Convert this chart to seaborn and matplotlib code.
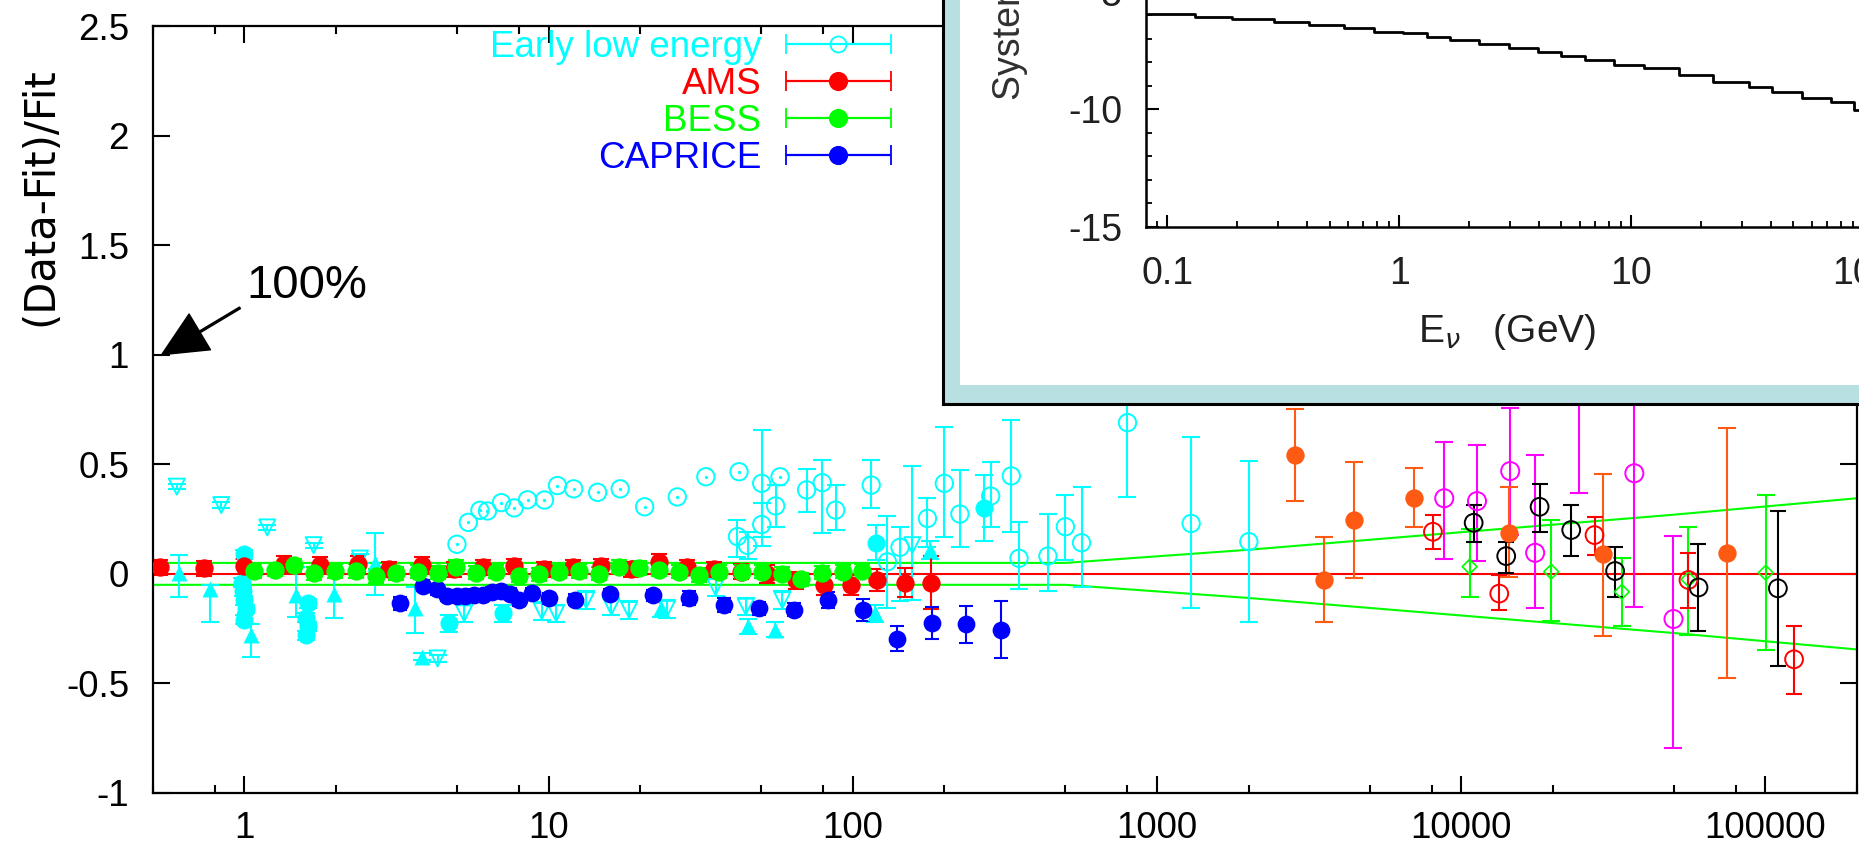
import numpy as np
import matplotlib
matplotlib.use("Agg")
import matplotlib.pyplot as plt
import seaborn as sns
from matplotlib.container import ErrorbarContainer
from matplotlib.legend_handler import HandlerErrorbar
from matplotlib.ticker import FixedLocator, FixedFormatter, LogLocator, NullFormatter, MultipleLocator

CYAN, RED, GREEN, BLUE = "#00ffff", "#ff0000", "#00ff00", "#0000ff"
MAGENTA, ORANGE, BLACK = "#ff00ff", "#ff5a14", "#000000"

# ---------------- data ----------------
ams_E = [0.53, 0.74, 1.0, 1.35, 1.78, 2.36, 3.0, 3.85, 4.9, 6.1, 7.7, 9.7, 12.0, 14.9,
         18.6, 23.1, 28.6, 35.0, 42.8, 52.4, 64.9, 80.4, 98.4, 120, 148, 181]
ams_v = [0.03, 0.025, 0.035, 0.045, 0.04, 0.045, 0.02, 0.04, 0.02, 0.03, 0.035, 0.02, 0.03, 0.035,
         0.02, 0.055, 0.03, 0.02, 0.01, 0.0, -0.03, -0.05, -0.05, -0.03, -0.04, -0.04]
ams_err = [0.035, 0.035, 0.035, 0.035, 0.035, 0.035, 0.035, 0.035, 0.035, 0.035, 0.035, 0.035, 0.035,
           0.035, 0.035, 0.035, 0.035, 0.035, 0.035, 0.04, 0.04, 0.045, 0.045, 0.05, 0.065, 0.12]

bess_E = [1.08, 1.26, 1.46, 1.70, 1.98, 2.33, 2.71, 3.15, 3.72, 4.32, 4.95, 5.77, 6.71, 8.0, 9.31,
          10.8, 12.6, 14.7, 17.1, 19.9, 23.1, 26.9, 31.3, 36.3, 43.4, 50.5, 58.7, 67.8, 79.4, 92.9, 107]
bess_v = [0.013, 0.018, 0.04, 0.002, 0.013, 0.013, -0.01, 0.002, 0.01, 0.005, 0.033, 0.005, 0.01,
          -0.008, -0.002, 0.01, 0.013, 0.0, 0.033, 0.027, 0.018, 0.01, -0.005, 0.01, 0.01, 0.01, 0.0,
          -0.025, 0.005, 0.01, 0.013]
bess_err = [0.03] * 31

cap_E = [3.24, 3.86, 4.3, 4.65, 5.0, 5.32, 5.7, 6.09, 6.5, 6.97, 7.45, 7.98, 8.8, 10.0, 12.2, 15.9,
         22.0, 29.0, 37.7, 49.2, 64.1, 82.9, 108, 140, 182, 236, 306]
cap_v = [-0.135, -0.054, -0.07, -0.1, -0.1, -0.1, -0.095, -0.097, -0.085, -0.08, -0.09, -0.12, -0.088,
         -0.112, -0.118, -0.092, -0.098, -0.11, -0.142, -0.158, -0.163, -0.12, -0.165, -0.295, -0.223,
         -0.231, -0.254]
cap_err = [0.03, 0.025, 0.025, 0.025, 0.025, 0.025, 0.025, 0.025, 0.025, 0.025, 0.025, 0.025, 0.025,
           0.025, 0.025, 0.025, 0.025, 0.03, 0.03, 0.03, 0.03, 0.035, 0.05, 0.055, 0.072, 0.084, 0.13]

# early low-energy experiments (all cyan)
cf_E = [1.0, 0.98, 0.99, 1.0, 1.01, 1.0, 1.62, 1.6, 1.62, 1.6, 4.71, 7.06, 119, 271]
cf_v = [0.09, -0.04, -0.08, -0.12, -0.16, -0.21, -0.135, -0.2, -0.24, -0.28, -0.226, -0.18, 0.142, 0.299]
cf_err = [0.02, 0.02, 0.02, 0.02, 0.02, 0.02, 0.02, 0.02, 0.02, 0.02, 0.04, 0.04, 0.08, 0.15]

ct_E = [0.61, 0.77, 1.05, 1.48, 1.97, 2.69, 3.63, 3.85, 23.5, 45.3, 55.6, 118.6, 179]
ct_v = [0.002, -0.07, -0.28, -0.097, -0.09, 0.048, -0.158, -0.378, -0.158, -0.24, -0.255, -0.18, 0.11]
ct_lo = [0.107, 0.15, 0.1, 0.1, 0.11, 0.145, 0.114, 0.015, 0.04, 0.035, 0.035, 0.04, 0.04]
ct_hi = [0.084, 0.02, 0.05, 0.13, 0.1, 0.137, 0.1, 0.015, 0.04, 0.035, 0.035, 0.04, 0.04]

cv_E = [0.6, 0.84, 1.19, 1.69, 2.4, 4.32, 5.28, 9.5, 10.6, 13.3, 16.1, 18.4, 24.5, 35.4, 44.5, 58.7, 157]
cv_v = [0.398, 0.314, 0.212, 0.131, 0.07, -0.386, -0.18, -0.17, -0.18, -0.12, -0.15, -0.165, -0.16,
        -0.06, -0.15, -0.12, 0.131]
cv_lo = [0.012, 0.012, 0.012, 0.012, 0.02, 0.015, 0.04, 0.04, 0.04, 0.04, 0.04, 0.04, 0.04, 0.04,
         0.04, 0.04, 0.25]
cv_hi = [0.012, 0.012, 0.012, 0.012, 0.02, 0.015, 0.04, 0.04, 0.04, 0.04, 0.04, 0.04, 0.04, 0.04,
         0.04, 0.04, 0.36]

cd_E = [5.0, 5.45, 5.95, 6.3, 7.0, 7.71, 8.53, 9.7, 10.7, 12.1, 14.5, 17.2, 20.7, 26.5, 32.9, 42.3, 57.7]
cd_v = [0.135, 0.235, 0.29, 0.287, 0.325, 0.301, 0.338, 0.337, 0.403, 0.388, 0.372, 0.388, 0.306,
        0.351, 0.443, 0.466, 0.443]

co_E = [41.8, 45.1, 50.2, 50.2, 55.8, 70.5, 79.4, 87.9, 115, 130, 143, 176, 200, 225, 284, 332, 352,
        438, 500, 565, 800, 1295, 2005]
co_v = [0.17, 0.13, 0.413, 0.225, 0.31, 0.383, 0.416, 0.291, 0.405, 0.055, 0.121, 0.253, 0.413, 0.273,
        0.355, 0.447, 0.071, 0.081, 0.215, 0.142, 0.69, 0.23, 0.147]
co_hi = [0.076, 0.06, 0.244, 0.1, 0.095, 0.097, 0.104, 0.114, 0.115, 0.209, 0.094, 0.092, 0.256, 0.201,
         0.157, 0.255, 0.167, 0.192, 0.145, 0.253, 0.3, 0.393, 0.369]
co_lo = [0.092, 0.06, 0.243, 0.1, 0.095, 0.103, 0.231, 0.091, 0.105, 0.213, 0.244, 0.129, 0.243, 0.149,
         0.14, 0.255, 0.142, 0.16, 0.152, 0.204, 0.338, 0.388, 0.366]

# high-energy data sets
or_E = [2832, 3550, 4454, 6980, 14390, 29240, 74700]
or_v = [0.542, -0.028, 0.246, 0.345, 0.188, 0.089, 0.093]
or_hi = [0.21, 0.195, 0.263, 0.137, 0.207, 0.367, 0.574]
or_lo = [0.209, 0.191, 0.264, 0.133, 0.201, 0.372, 0.566]

ro_E = [8075, 13340, 27430, 55850, 124200]
ro_v = [0.192, -0.09, 0.177, -0.028, -0.39]
ro_hi = [0.077, 0.087, 0.084, 0.124, 0.152]
ro_lo = [0.077, 0.073, 0.09, 0.129, 0.156]

mg_E = [8796, 11270, 14490, 17500, 24300, 37080, 49870]
mg_v = [0.345, 0.332, 0.469, 0.096, 0.95, 0.459, -0.206]
mg_hi = [0.258, 0.256, 0.287, 0.446, 0.3, 0.6, 0.378]
mg_lo = [0.275, 0.272, 0.29, 0.253, 0.583, 0.609, 0.59]

bk_E = [10990, 14060, 18100, 23000, 32060, 60260, 109900]
bk_v = [0.233, 0.081, 0.306, 0.2, 0.013, -0.062, -0.066]
bk_hi = [0.081, 0.066, 0.104, 0.114, 0.111, 0.198, 0.354]
bk_lo = [0.087, 0.077, 0.113, 0.119, 0.117, 0.198, 0.355]

gd_E = [10660, 19770, 33740, 55850, 100200]
gd_v = [0.033, 0.01, -0.082, -0.025, 0.005]
gd_hi = [0.17, 0.236, 0.153, 0.237, 0.355]
gd_lo = [0.138, 0.223, 0.156, 0.253, 0.353]

# uncertainty band
band_E = [0.5, 500, 2000, 10000, 50000, 200000]
band_hi = [0.05, 0.05, 0.11, 0.19, 0.27, 0.345]
band_lo = [-0.05, -0.05, -0.11, -0.19, -0.27, -0.345]

# inset curve
sys_E = [0.0809, 0.132, 0.19, 0.288, 0.408, 0.58, 0.78, 1.04, 1.31, 1.65, 2.2, 2.96, 3.96, 4.98, 6.3,
         8.4, 11.3, 16, 22.6, 32, 40.5, 54.2, 72.4, 91.5, 130]
sys_v = [-5.94, -6.06, -6.17, -6.28, -6.41, -6.55, -6.69, -6.76, -6.9, -7.05, -7.22, -7.4, -7.55, -7.73,
         -7.9, -8.11, -8.26, -8.54, -8.83, -9.04, -9.25, -9.54, -9.68, -10.03, -10.3]

xtick_vals = [1, 10, 100, 1000, 10000, 100000]
xtick_labels = ["1", "10", "100", "1000", "10000", "100000"]
ytick_vals = [-1, -0.5, 0, 0.5, 1, 1.5, 2, 2.5]
ytick_labels = ["-1", "-0.5", "0", "0.5", "1", "1.5", "2", "2.5"]
inset_xticks = [0.1, 1, 10, 100]
inset_xlabels = ["0.1", "1", "10", "100"]
inset_yticks = [-15, -10, -5]
inset_ylabels = ["-15", "-10", "-5"]

legend_labels = ["Early low energy", "AMS", "BESS", "CAPRICE"]
legend_colors = [CYAN, RED, GREEN, BLUE]
legend_open = [True, False, False, False]

# ---------------- style ----------------
sns.set_style("ticks")
plt.rcParams["font.family"] = ["Liberation Sans", "DejaVu Sans"]
plt.rcParams["axes.unicode_minus"] = False
plt.rcParams["mathtext.fontset"] = "dejavusans"

W, H = 1859, 850
fig = plt.figure(figsize=(W / 100, H / 100), dpi=100)
ax = fig.add_axes([152.7 / W, (H - 793) / H, (1857 - 152.7) / W, 767 / H])
ax.set_xscale("log")
ax.set_xlim(0.5, 2e5)
ax.set_ylim(-1, 2.5)
ax.set_facecolor("white")

ax.axhline(0, color=RED, lw=1.5, zorder=1.5)
sns.lineplot(x=band_E, y=band_hi, ax=ax, color=GREEN, lw=1.5, sort=False, estimator=None, zorder=1.5)
sns.lineplot(x=band_E, y=band_lo, ax=ax, color=GREEN, lw=1.5, sort=False, estimator=None, zorder=1.5)


def bars(E, v, lo, hi, color, cap=6.0, lw=1.5):
    ax.errorbar(E, v, yerr=[lo, hi], fmt="none", ecolor=color, elinewidth=lw,
                capsize=cap, capthick=lw, zorder=2)


def pts(E, v, marker, color, ms, hollow=False, lw=1.4, z=3):
    if hollow:
        sns.scatterplot(x=E, y=v, ax=ax, marker=marker, s=ms ** 2, color=color,
                        facecolors="none", edgecolor=color, linewidth=lw, zorder=z, legend=False)
    else:
        sns.scatterplot(x=E, y=v, ax=ax, marker=marker, s=ms ** 2, color=color,
                        edgecolor=color, linewidth=0, zorder=z, legend=False)


# early low energy (cyan)
bars(cv_E, cv_v, cv_lo, cv_hi, CYAN, cap=6.5)
pts(cv_E, cv_v, "v", CYAN, 11.5, hollow=True)
bars(ct_E, ct_v, ct_lo, ct_hi, CYAN, cap=6.5)
pts(ct_E, ct_v, "^", CYAN, 11.5)
bars(cf_E, cf_v, cf_err, cf_err, CYAN, cap=6.5)
pts(cf_E, cf_v, "o", CYAN, 13)
pts(cd_E, cd_v, "o", CYAN, 12.5, hollow=True)
pts(cd_E, cd_v, "o", CYAN, 2.4)
bars(co_E, co_v, co_lo, co_hi, CYAN, cap=6.5)
pts(co_E, co_v, "o", CYAN, 12.5, hollow=True)

# AMS, BESS, CAPRICE
bars(ams_E, ams_v, ams_err, ams_err, RED, cap=5.5)
pts(ams_E, ams_v, "o", RED, 13.2)
bars(bess_E, bess_v, bess_err, bess_err, GREEN, cap=5.5)
pts(bess_E, bess_v, "o", GREEN, 13.2, z=3.2)
bars(cap_E, cap_v, cap_err, cap_err, BLUE, cap=5)
pts(cap_E, cap_v, "o", BLUE, 12.8, z=3.1)

# high energy
bars(mg_E, mg_v, mg_lo, mg_hi, MAGENTA, cap=6.5)
pts(mg_E, mg_v, "o", MAGENTA, 13, hollow=True)
bars(gd_E, gd_v, gd_lo, gd_hi, GREEN, cap=6.5)
pts(gd_E, gd_v, "D", GREEN, 7.5, hollow=True, lw=1.2)
bars(or_E, or_v, or_lo, or_hi, ORANGE, cap=6.5)
pts(or_E, or_v, "o", ORANGE, 13.2)
bars(ro_E, ro_v, ro_lo, ro_hi, RED, cap=6)
pts(ro_E, ro_v, "o", RED, 12.8, hollow=True)
bars(bk_E, bk_v, bk_lo, bk_hi, BLACK, cap=6)
pts(bk_E, bk_v, "o", BLACK, 12.8, hollow=True)

# ticks / spines
ax.xaxis.set_major_locator(FixedLocator(xtick_vals))
ax.xaxis.set_major_formatter(FixedFormatter(xtick_labels))
ax.xaxis.set_minor_locator(LogLocator(base=10, subs=(2, 5, 8), numticks=60))
ax.xaxis.set_minor_formatter(NullFormatter())
ax.yaxis.set_major_locator(FixedLocator(ytick_vals))
ax.yaxis.set_major_formatter(FixedFormatter(ytick_labels))
ax.yaxis.set_minor_locator(FixedLocator([]))
ax.tick_params(axis="both", which="major", direction="in", length=12, width=1.5,
               top=True, right=True, color="black", labelcolor="black", labelsize=26.5)
ax.tick_params(axis="x", which="minor", direction="in", length=6, width=1.5,
               top=True, bottom=True, color="black")
ax.tick_params(axis="y", which="major", pad=17)
ax.tick_params(axis="x", which="major", pad=13)
for s in ax.spines.values():
    s.set_color("black")
    s.set_linewidth(1.6)

ax.set_ylabel("(Data-Fit)/Fit", fontsize=30, family=["DejaVu Sans"], color="black")
ax.yaxis.set_label_coords(-0.0538, 0.778)

# legend (gnuplot style: text, then horizontal error bar sample)
proxies = []
for lab, col, hol in zip(legend_labels, legend_colors, legend_open):
    h = ax.errorbar([np.nan], [np.nan], xerr=[[1.0], [1.0]], fmt="o", color=col,
                    mfc="none" if hol else col, mec=col, ms=11.5 if hol else 12.5, mew=1.3,
                    elinewidth=1.6, capsize=7, capthick=1.6, label=lab)
    proxies.append(h)
leg = ax.legend(handles=proxies, labels=legend_labels, loc="upper right",
                bbox_to_anchor=(891 / W, 1 - 30 / H), bbox_transform=fig.transFigure,
                frameon=False, markerfirst=False, labelcolor=legend_colors,
                handlelength=2.87, handletextpad=0.65, labelspacing=0.05,
                borderpad=0, borderaxespad=0, fontsize=26.5,
                handler_map={ErrorbarContainer: HandlerErrorbar(xerr_size=1.43)})

# 100% annotation
ax.annotate("", xy=(0.535, 1.0), xytext=(0.968, 1.214),
            arrowprops=dict(facecolor="black", edgecolor="black", width=1.3,
                            headwidth=30, headlength=32, shrink=0))
ax.text(1.013, 1.258, "100%", fontsize=34, ha="left", va="baseline", color="black")

# ---------------- inset (pasted figure) ----------------
frame = fig.add_axes([943 / W, (H - 404) / H, 0.6, 0.6])
frame.set_facecolor("#b8dfe1")
frame.set_xticks([])
frame.set_yticks([])
for s in frame.spines.values():
    s.set_color("black")
    s.set_linewidth(2.2)

inner = fig.add_axes([960 / W, (H - 385) / H, 0.6, 0.6])
inner.set_facecolor("white")
inner.set_xticks([])
inner.set_yticks([])
for s in inner.spines.values():
    s.set_visible(False)

axi = fig.add_axes([1146 / W, (H - 226.7) / H, (1974 - 1146) / W, (226.7 + 125.5) / H])
axi.set_facecolor("none")
axi.set_xscale("log")
axi.set_xlim(0.0809, 300)
axi.set_ylim(-15, 0)
sns.lineplot(x=sys_E, y=sys_v, ax=axi, color="black", lw=2, drawstyle="steps-post",
             sort=False, estimator=None)
axi.set_xlabel("")
axi.set_ylabel("")
axi.xaxis.set_major_locator(FixedLocator(inset_xticks))
axi.xaxis.set_major_formatter(FixedFormatter(inset_xlabels))
axi.xaxis.set_minor_locator(LogLocator(base=10, subs=(2, 3, 4, 5, 6, 7, 8, 9), numticks=60))
axi.xaxis.set_minor_formatter(NullFormatter())
axi.yaxis.set_major_locator(FixedLocator(inset_yticks))
axi.yaxis.set_major_formatter(FixedFormatter(inset_ylabels))
axi.yaxis.set_minor_locator(MultipleLocator(1))
axi.tick_params(axis="both", which="major", direction="in", length=9, width=1.5,
                color="black", labelcolor="#202020", labelsize=27)
axi.tick_params(axis="both", which="minor", direction="in", length=4.5, width=1.3, color="black")
axi.tick_params(axis="y", which="major", pad=17)
axi.tick_params(axis="x", which="major", pad=21)
for s in axi.spines.values():
    s.set_color("black")
    s.set_linewidth(1.8)

fig.text(1507 / W, 1 - 342 / H, r"E$_{\nu}$   (GeV)", fontsize=28, ha="center", va="baseline",
         color="#202020")
fig.text(1010 / W, 1 - 100 / H, "Systematic error (%)", fontsize=27, rotation=90,
         ha="center", va="bottom", color="#303030")

fig.savefig("out.png", dpi=100)
